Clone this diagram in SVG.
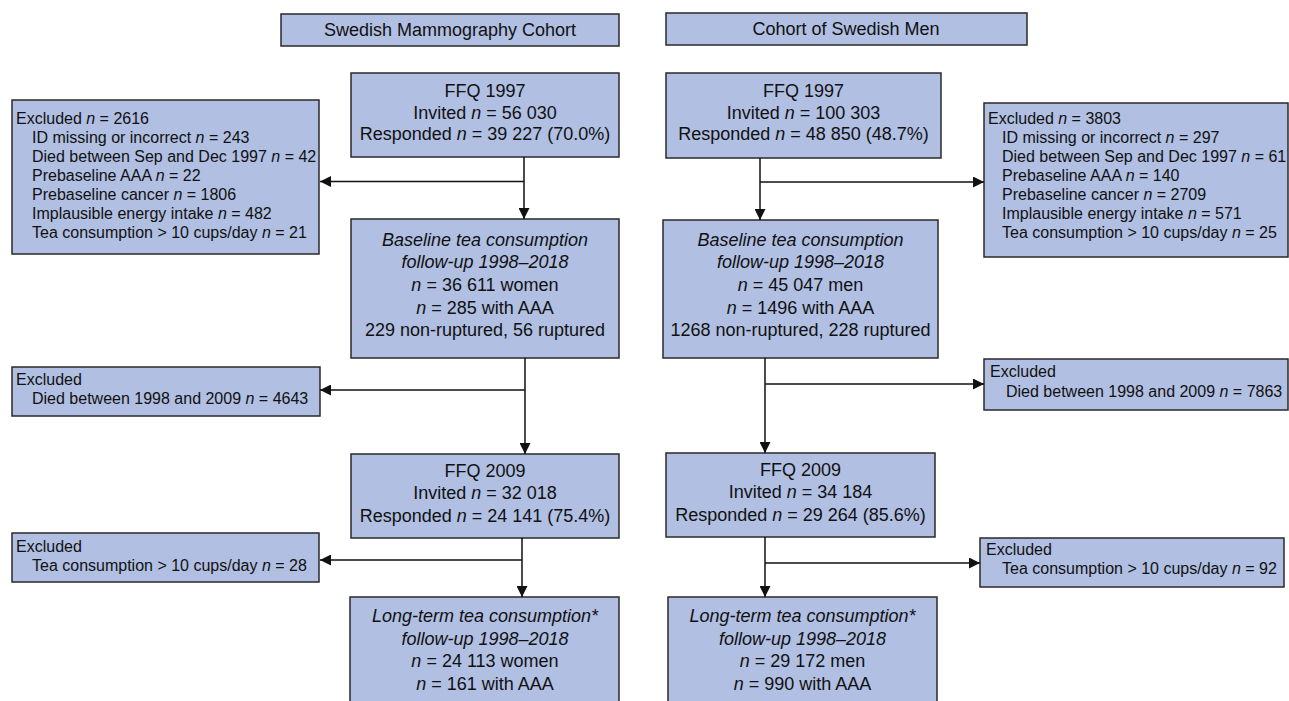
<svg xmlns="http://www.w3.org/2000/svg" width="1289" height="701" viewBox="0 0 1289 701">
<style>
.box{fill:#b0bfe2;stroke:#2a2a2a;stroke-width:1.5}
.t{font-family:"Liberation Sans",Arial,sans-serif;fill:#111}
.m{font-size:18px;text-anchor:middle}
.h{font-size:18px;text-anchor:middle}
.e{font-size:16px}
.i{font-style:italic}
.ln{fill:none;stroke:#111;stroke-width:1.5}
</style>
<defs>
<marker id="ah" viewBox="0 0 11 11" refX="11" refY="5.5" markerWidth="11" markerHeight="11" markerUnits="userSpaceOnUse" orient="auto">
<path d="M0,0 L11,5.5 L0,11 z" fill="#111"/>
</marker>
</defs>
<rect width="1289" height="701" fill="#fff"/>

<g id="hdr-smc"><rect class="box" x="281" y="14" width="338" height="32"/>
<text class="t h" x="450" y="36">Swedish Mammography Cohort</text></g>
<g id="hdr-cosm"><rect class="box" x="666" y="13" width="361" height="32"/>
<text class="t h" x="846" y="35">Cohort of Swedish Men</text></g>

<g id="ffq97-l"><rect class="box" x="351" y="73" width="268" height="84"/>
<text class="t m" x="485" y="97">FFQ 1997</text>
<text class="t m" x="485" y="118.5">Invited <tspan class="i">n</tspan> = 56 030</text>
<text class="t m" x="485" y="140">Responded <tspan class="i">n</tspan> = 39 227 (70.0%)</text></g>

<g id="ffq97-r"><rect class="box" x="666" y="73" width="275" height="85"/>
<text class="t m" x="803.5" y="97">FFQ 1997</text>
<text class="t m" x="803.5" y="118.5">Invited <tspan class="i">n</tspan> = 100 303</text>
<text class="t m" x="803.5" y="140">Responded <tspan class="i">n</tspan> = 48 850 (48.7%)</text></g>

<g id="excl1-l"><rect class="box" x="12" y="100" width="307" height="154"/>
<text class="t e" x="16" y="124">Excluded <tspan class="i">n</tspan> = 2616</text>
<text class="t e" x="32" y="143">ID missing or incorrect <tspan class="i">n</tspan> = 243</text>
<text class="t e" x="32" y="162">Died between Sep and Dec 1997 <tspan class="i">n</tspan> = 42</text>
<text class="t e" x="32" y="181">Prebaseline AAA <tspan class="i">n</tspan> = 22</text>
<text class="t e" x="32" y="199.5">Prebaseline cancer <tspan class="i">n</tspan> = 1806</text>
<text class="t e" x="32" y="218.5">Implausible energy intake <tspan class="i">n</tspan> = 482</text>
<text class="t e" x="32" y="237.5">Tea consumption &gt; 10 cups/day <tspan class="i">n</tspan> = 21</text></g>

<g id="excl1-r"><rect class="box" x="984" y="103" width="304" height="154"/>
<text class="t e" x="988" y="124">Excluded <tspan class="i">n</tspan> = 3803</text>
<text class="t e" x="1002" y="143">ID missing or incorrect <tspan class="i">n</tspan> = 297</text>
<text class="t e" x="1002" y="162">Died between Sep and Dec 1997 <tspan class="i">n</tspan> = 61</text>
<text class="t e" x="1002" y="181">Prebaseline AAA <tspan class="i">n</tspan> = 140</text>
<text class="t e" x="1002" y="199.5">Prebaseline cancer <tspan class="i">n</tspan> = 2709</text>
<text class="t e" x="1002" y="218.5">Implausible energy intake <tspan class="i">n</tspan> = 571</text>
<text class="t e" x="1002" y="237.5">Tea consumption &gt; 10 cups/day <tspan class="i">n</tspan> = 25</text></g>

<g id="base-l"><rect class="box" x="351" y="219" width="268" height="139"/>
<text class="t m i" x="485" y="245.5">Baseline tea consumption</text>
<text class="t m i" x="485" y="268">follow-up 1998–2018</text>
<text class="t m" x="485" y="291"><tspan class="i">n</tspan> = 36 611 women</text>
<text class="t m" x="485" y="313.5"><tspan class="i">n</tspan> = 285 with AAA</text>
<text class="t m" x="485" y="336">229 non-ruptured, 56 ruptured</text></g>

<g id="base-r"><rect class="box" x="663" y="220" width="275" height="138"/>
<text class="t m i" x="800.5" y="245.5">Baseline tea consumption</text>
<text class="t m i" x="800.5" y="268">follow-up 1998–2018</text>
<text class="t m" x="800.5" y="291"><tspan class="i">n</tspan> = 45 047 men</text>
<text class="t m" x="800.5" y="313.5"><tspan class="i">n</tspan> = 1496 with AAA</text>
<text class="t m" x="800.5" y="336">1268 non-ruptured, 228 ruptured</text></g>

<g id="excl2-l"><rect class="box" x="12" y="367" width="308" height="49"/>
<text class="t e" x="16" y="385">Excluded</text>
<text class="t e" x="32" y="404">Died between 1998 and 2009 <tspan class="i">n</tspan> = 4643</text></g>

<g id="excl2-r"><rect class="box" x="984" y="359" width="304" height="51"/>
<text class="t e" x="990" y="377">Excluded</text>
<text class="t e" x="1006" y="397">Died between 1998 and 2009 <tspan class="i">n</tspan> = 7863</text></g>

<g id="ffq09-l"><rect class="box" x="351" y="454" width="268" height="84"/>
<text class="t m" x="485" y="477">FFQ 2009</text>
<text class="t m" x="485" y="499">Invited <tspan class="i">n</tspan> = 32 018</text>
<text class="t m" x="485" y="521.5">Responded <tspan class="i">n</tspan> = 24 141 (75.4%)</text></g>

<g id="ffq09-r"><rect class="box" x="666" y="453" width="269" height="84"/>
<text class="t m" x="800.5" y="476">FFQ 2009</text>
<text class="t m" x="800.5" y="498">Invited <tspan class="i">n</tspan> = 34 184</text>
<text class="t m" x="800.5" y="521">Responded <tspan class="i">n</tspan> = 29 264 (85.6%)</text></g>

<g id="excl3-l"><rect class="box" x="12" y="533" width="307" height="49"/>
<text class="t e" x="16" y="552">Excluded</text>
<text class="t e" x="32" y="571">Tea consumption &gt; 10 cups/day <tspan class="i">n</tspan> = 28</text></g>

<g id="excl3-r"><rect class="box" x="980" y="538" width="304" height="49"/>
<text class="t e" x="986" y="555">Excluded</text>
<text class="t e" x="1002" y="574">Tea consumption &gt; 10 cups/day <tspan class="i">n</tspan> = 92</text></g>

<g id="long-l"><rect class="box" x="350" y="597" width="269" height="130"/>
<text class="t m i" x="485" y="622">Long-term tea consumption*</text>
<text class="t m i" x="485" y="644.5">follow-up 1998–2018</text>
<text class="t m" x="485" y="667"><tspan class="i">n</tspan> = 24 113 women</text>
<text class="t m" x="485" y="689.5"><tspan class="i">n</tspan> = 161 with AAA</text></g>

<g id="long-r"><rect class="box" x="668" y="597" width="269" height="130"/>
<text class="t m i" x="802.5" y="622">Long-term tea consumption*</text>
<text class="t m i" x="802.5" y="644.5">follow-up 1998–2018</text>
<text class="t m" x="802.5" y="667"><tspan class="i">n</tspan> = 29 172 men</text>
<text class="t m" x="802.5" y="689.5"><tspan class="i">n</tspan> = 990 with AAA</text></g>

<g id="connectors">
<line class="ln" x1="524" y1="157" x2="524" y2="219" marker-end="url(#ah)"/>
<line class="ln" x1="524" y1="181.5" x2="320" y2="181.5" marker-end="url(#ah)"/>
<line class="ln" x1="525" y1="358" x2="525" y2="454" marker-end="url(#ah)"/>
<line class="ln" x1="525" y1="390" x2="320" y2="390" marker-end="url(#ah)"/>
<line class="ln" x1="522" y1="538" x2="522" y2="597" marker-end="url(#ah)"/>
<line class="ln" x1="522" y1="560" x2="320" y2="560" marker-end="url(#ah)"/>
<line class="ln" x1="760" y1="158" x2="760" y2="220" marker-end="url(#ah)"/>
<line class="ln" x1="760" y1="182" x2="984" y2="182" marker-end="url(#ah)"/>
<line class="ln" x1="765" y1="358" x2="765" y2="453" marker-end="url(#ah)"/>
<line class="ln" x1="765" y1="384" x2="984" y2="384" marker-end="url(#ah)"/>
<line class="ln" x1="765" y1="537" x2="765" y2="597" marker-end="url(#ah)"/>
<line class="ln" x1="765" y1="563" x2="980" y2="563" marker-end="url(#ah)"/>
</g>
</svg>
